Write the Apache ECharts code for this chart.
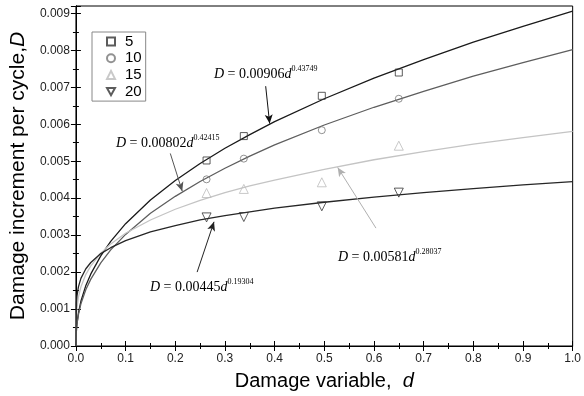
<!DOCTYPE html>
<html>
<head>
<meta charset="utf-8">
<script src="https://cdn.jsdelivr.net/npm/echarts@6/dist/echarts.min.js"></script>
<style>
html,body{margin:0;padding:0;background:#fff;}
#main{width:584px;height:396px;}
</style>
</head>
<body>
<div id="main"></div>
<script>
// Fitted curve sample points
const dGrid = [0, 0.001, 0.002, 0.005, 0.01, 0.02, 0.03, 0.05, 0.07, 0.1, 0.15, 0.2, 0.25, 0.3, 0.35, 0.4, 0.5, 0.6, 0.7, 0.8, 0.9, 1.0];
const fit5  = [0, 0.00044, 0.00060, 0.00089, 0.00121, 0.00164, 0.00195, 0.00244, 0.00283, 0.00331, 0.00395, 0.00448, 0.00494, 0.00535, 0.00572, 0.00607, 0.00669, 0.00725, 0.00775, 0.00822, 0.00865, 0.00906];
const fit10 = [0, 0.00043, 0.00058, 0.00085, 0.00114, 0.00153, 0.00181, 0.00225, 0.00260, 0.00302, 0.00359, 0.00405, 0.00445, 0.00481, 0.00514, 0.00544, 0.00598, 0.00646, 0.00689, 0.00730, 0.00767, 0.00802];
const fit15 = [0, 0.00084, 0.00102, 0.00132, 0.00160, 0.00194, 0.00217, 0.00251, 0.00276, 0.00305, 0.00341, 0.00370, 0.00394, 0.00415, 0.00433, 0.00449, 0.00478, 0.00504, 0.00526, 0.00546, 0.00564, 0.00581];
const fit20 = [0, 0.00117, 0.00134, 0.00160, 0.00183, 0.00209, 0.00226, 0.00250, 0.00266, 0.00285, 0.00309, 0.00326, 0.00341, 0.00353, 0.00363, 0.00373, 0.00389, 0.00403, 0.00415, 0.00426, 0.00436, 0.00445];

// Measured points
const measD = [0.263, 0.338, 0.495, 0.650];
const obs5  = [0.00502, 0.00568, 0.00677, 0.00740];
const obs10 = [0.00451, 0.00507, 0.00584, 0.00669];
const obs15 = [0.00414, 0.00425, 0.00443, 0.00542];
const obs20 = [0.00348, 0.00349, 0.00378, 0.00415];

const legendNames = ['5', '10', '15', '20'];

const pair = (xs, ys) => xs.map((x, i) => [x, ys[i]]);

const chart = echarts.init(document.getElementById('main'), null, {renderer: 'canvas'});

const serif = 'Liberation Serif';
const richEq = {
  i: {fontFamily: serif, fontStyle: 'italic', fontSize: 14, lineHeight: 18, color: '#000'},
  t: {fontFamily: serif, fontSize: 14, lineHeight: 18, color: '#000'},
  s: {fontFamily: serif, fontSize: 8, lineHeight: 10, verticalAlign: 'top', color: '#000'}
};
function eqText(a, b) {
  return '{i|D}{t| = ' + a + '}{i|d}{s|' + b + '}';
}

function arrow(p1, p2, color) {
  return [{coord: p1, lineStyle: {color: color, width: 1, type: 'solid'}}, {coord: p2}];
}

const axisCommon = {
  type: 'value',
  axisLine: {show: true, lineStyle: {color: '#000', width: 1}},
  axisTick: {show: true, inside: true, length: 5, lineStyle: {color: '#000'}},
  minorTick: {show: true, splitNumber: 2, length: 3, lineStyle: {color: '#000'}},
  splitLine: {show: false},
  minorSplitLine: {show: false}
};

const fmtY = v => (Math.abs(v * 1000 - Math.round(v * 1000)) < 1e-6 ? v.toFixed(3) : '');
const fmtX = v => (Math.abs(v * 10 - Math.round(v * 10)) < 1e-6 ? v.toFixed(1) : '');

function curve(name, data, color, width, mark) {
  return {
    name: name, type: 'line', data: pair(dGrid, data), showSymbol: false, symbol: 'none',
    smooth: false,
    lineStyle: {color: color, width: width}, z: 2, silent: true,
    markLine: mark ? {silent: true, symbol: ['none', 'arrow'], symbolSize: [6, 9], label: {show: false}, data: [mark]} : undefined
  };
}
function pts(name, data, symbol, size, color) {
  return {
    name: name, type: 'scatter', data: pair(measD, data), symbol: symbol, symbolSize: size,
    itemStyle: {color: 'rgba(255,255,255,0)', borderColor: color, borderWidth: 1}, z: 3
  };
}

const option = {
  animation: false,
  backgroundColor: '#fff',
  grid: {left: 72, right: 6, top: 6, bottom: 43, show: true, borderColor: '#000', borderWidth: 1, backgroundColor: 'transparent'},
  legend: {
    data: legendNames, orient: 'vertical', left: 92, top: 32,
    borderColor: '#888', borderWidth: 1, padding: [2, 4, 2, 14],
    itemWidth: 8, itemHeight: 8, itemGap: 1.7,
    textStyle: {fontFamily: 'Liberation Sans', fontSize: 15, lineHeight: 15, color: '#000', padding: [0, 0, 0, 5]}
  },
  xAxis: [
    Object.assign({}, axisCommon, {
      min: 0, max: 1, interval: 0.1, position: 'bottom',
      axisLabel: {formatter: fmtX, fontFamily: 'Liberation Sans', fontSize: 12, color: '#222', margin: 7},
      name: '{n|Damage variable,  }{i|d}', nameLocation: 'middle', nameGap: 25,
      nameTextStyle: {rich: {
        n: {fontFamily: 'Liberation Sans', fontSize: 20, color: '#000'},
        i: {fontFamily: 'Liberation Sans', fontStyle: 'italic', fontSize: 20, color: '#000'}
      }}
    }),
    Object.assign({}, axisCommon, {min: 0, max: 1, interval: 0.1, position: 'top', axisLabel: {show: false}})
  ],
  yAxis: [
    Object.assign({}, axisCommon, {
      min: 0, max: 0.0092, interval: 0.001, position: 'left',
      axisLabel: {formatter: fmtY, fontFamily: 'Liberation Sans', fontSize: 12, color: '#222', margin: 6, showMaxLabel: false},
      name: '{n|Damage increment per cycle,}{i|D}', nameLocation: 'middle', nameGap: 45, nameRotate: 90,
      nameTextStyle: {rich: {
        n: {fontFamily: 'Liberation Sans', fontSize: 21, color: '#000'},
        i: {fontFamily: 'Liberation Sans', fontStyle: 'italic', fontSize: 21, color: '#000'}
      }}
    }),
    Object.assign({}, axisCommon, {min: 0, max: 0.0092, interval: 0.001, position: 'right', axisLabel: {show: false}})
  ],
  series: [
    curve('c5', fit5, '#1a1a1a', 1.3, arrow([0.382, 0.00703], [0.390, 0.00602], '#111')),
    curve('c10', fit10, '#5e5e5e', 1.3, arrow([0.190, 0.00521], [0.214, 0.00419], '#555')),
    curve('c15', fit15, '#c4c4c4', 1.3, arrow([0.604, 0.00319], [0.527, 0.00483], '#b0b0b0')),
    curve('c20', fit20, '#262626', 1.3, arrow([0.244, 0.00200], [0.278, 0.00336], '#222')),
    pts('5', obs5, 'rect', 7, '#333'),
    pts('10', obs10, 'circle', 7, '#777'),
    pts('15', obs15, 'triangle', 9, '#bbb'),
    pts('20', obs20, 'path://M0,0L10,0L5,9Z', 9, '#333')
  ],
  graphic: [
    {type: 'text', left: 214, top: 65, style: {text: eqText('0.00906', '0.43749'), rich: richEq}},
    {type: 'text', left: 116, top: 134, style: {text: eqText('0.00802', '0.42415'), rich: richEq}},
    {type: 'text', left: 338, top: 248, style: {text: eqText('0.00581', '0.28037'), rich: richEq}},
    {type: 'text', left: 150, top: 278, style: {text: eqText('0.00445', '0.19304'), rich: richEq}}
  ]
};
chart.setOption(option);
</script>
</body>
</html>
